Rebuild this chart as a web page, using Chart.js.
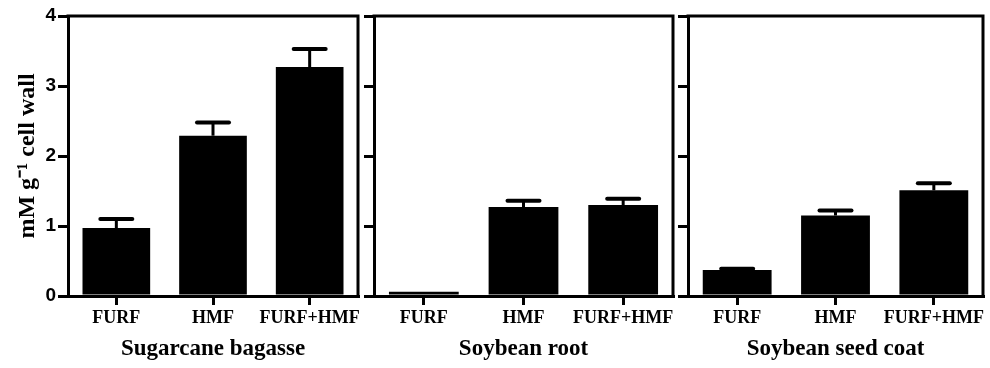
<!DOCTYPE html>
<html>
<head>
<meta charset="utf-8">
<script src="https://cdn.jsdelivr.net/npm/chart.js@4.4.1/dist/chart.umd.min.js"></script>
<style>
  html, body { margin: 0; padding: 0; background: #fff; }
  #wrap { position: relative; width: 990px; height: 368px; }
  #wrap canvas { position: absolute; left: 0; top: 0; }
</style>
</head>
<body>
<div id="wrap">
  <canvas id="c1" width="990" height="368"></canvas>
  <canvas id="c2" width="990" height="368"></canvas>
  <canvas id="c3" width="990" height="368"></canvas>
</div>
<script>
// data
const categories = ['FURF', 'HMF', 'FURF+HMF'];
const panelTitles = ['Sugarcane bagasse', 'Soybean root', 'Soybean seed coat'];
const yTitle = 'mM g\u207B\u00B9 cell wall';
const yTicks = [0, 1, 2, 3, 4];

const bagasseMean = [0.97, 2.29, 3.27];
const bagasseErr  = [0.13, 0.19, 0.26];
const rootMean    = [0.06, 1.27, 1.30];
const rootErr     = [0.00, 0.09, 0.09];
const seedMean    = [0.37, 1.15, 1.51];
const seedErr     = [0.02, 0.07, 0.10];

const serif = "'Liberation Serif', 'Times New Roman', serif";
const sans = "'Liberation Sans', Arial, sans-serif";

// top + right edges of the box
const boxPlugin = {
  id: 'box',
  afterDraw(chart) {
    const { ctx, chartArea: a } = chart;
    ctx.save();
    ctx.strokeStyle = '#000';
    ctx.lineWidth = 3;
    ctx.lineCap = 'square';
    ctx.beginPath();
    ctx.moveTo(a.left, a.top);
    ctx.lineTo(a.right, a.top);
    ctx.lineTo(a.right, a.bottom);
    ctx.stroke();
    ctx.restore();
  }
};

// upper error bars
const errPlugin = {
  id: 'errbars',
  afterDatasetsDraw(chart, args, opts) {
    const { ctx } = chart;
    const y = chart.scales.y;
    const meta = chart.getDatasetMeta(0);
    const ds = chart.data.datasets[0];
    ctx.save();
    ctx.strokeStyle = '#000';
    meta.data.forEach((bar, i) => {
      const e = opts.err[i];
      if (!e) return;
      const y0 = y.getPixelForValue(ds.data[i]);
      const y1 = y.getPixelForValue(ds.data[i] + e);
      ctx.lineWidth = 3;
      ctx.lineCap = 'butt';
      ctx.beginPath();
      ctx.moveTo(bar.x, y0);
      ctx.lineTo(bar.x, y1);
      ctx.stroke();
      ctx.lineWidth = 4;
      ctx.lineCap = 'round';
      ctx.beginPath();
      ctx.moveTo(bar.x - 16, y1);
      ctx.lineTo(bar.x + 16, y1);
      ctx.stroke();
    });
    ctx.restore();
  }
};

function makePanel(id, mean, err, title, pad, yWidth, showY) {
  new Chart(document.getElementById(id), {
    type: 'bar',
    data: {
      labels: categories,
      datasets: [{ data: mean, backgroundColor: '#000', borderWidth: 0, barPercentage: 0.7, categoryPercentage: 1 }]
    },
    options: {
      responsive: false,
      animation: false,
      layout: { padding: { left: pad.left, right: pad.right, top: 16, bottom: 0 } },
      plugins: {
        legend: { display: false },
        tooltip: { enabled: false },
        errbars: { err }
      },
      scales: {
        x: {
          grid: { drawOnChartArea: false, offset: false, tickLength: 9, lineWidth: 3, color: '#000' },
          border: { display: true, width: 3, color: '#000' },
          ticks: { color: '#000', font: { family: serif, size: 18, weight: 'bold' }, padding: 3, maxRotation: 0, autoSkip: false },
          title: { display: true, text: title, color: '#000', font: { family: serif, size: 23, weight: 'bold' }, padding: { top: 0, bottom: 5 } },
          afterFit: (s) => { s.height = 72; }
        },
        y: {
          min: 0, max: 4,
          afterBuildTicks: (s) => { s.ticks = yTicks.map(v => ({ value: v })); },
          grid: { drawOnChartArea: false, tickLength: 10, lineWidth: 3, color: '#000' },
          border: { display: true, width: 3, color: '#000' },
          ticks: { display: showY, color: '#000', font: { family: sans, size: 19, weight: 'bold' }, padding: 2 },
          title: { display: showY, text: yTitle, color: '#000', font: { family: serif, size: 24, weight: 'bold' }, padding: { top: 13, bottom: 0 } },
          afterFit: (s) => { s.width = yWidth; }
        }
      }
    },
    plugins: [boxPlugin, errPlugin]
  });
}

makePanel('c1', bagasseMean, bagasseErr, panelTitles[0], { left: 0, right: 632 }, 68, true);
makePanel('c2', rootMean, rootErr, panelTitles[1], { left: 362, right: 317 }, 12, false);
makePanel('c3', seedMean, seedErr, panelTitles[2], { left: 676, right: 7 }, 12, false);
</script>
</body>
</html>
